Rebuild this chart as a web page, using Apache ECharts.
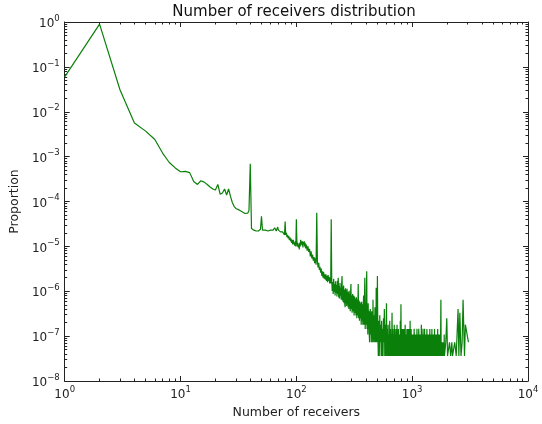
<!DOCTYPE html>
<html lang="en">
<head>
    <meta charset="UTF-8">
    <title>Number of receivers distribution</title>
    <script src="https://cdn.jsdelivr.net/npm/echarts@6.0.0/dist/echarts.min.js"></script>
    <style>
        *{margin:0;padding:0;box-sizing:border-box;}
        html,body{width:542px;height:424px;background:#fff;overflow:hidden;}
        #main{width:542px;height:424px;}
    </style>
</head>
<body>
<div id="main"></div>
<script>
    // ---- data (x = number of receivers, y = proportion) ----
    // head: every receiver count 1..40
    var receiversA = [1,2,3,4,5,6,7,8,9,10,11,12,13,14,15,16,17,18,19,20,
        21,22,23,24,25,26,27,28,29,30,31,32,33,34,35,36,37,38,39,40];
    var proportionA = [6.0e-2,9.0e-1,3.1e-2,5.6e-3,3.7e-3,2.4e-3,1.2e-3,7.4e-4,5.6e-4,4.6e-4,
        4.7e-4,4.4e-4,2.8e-4,2.4e-4,2.9e-4,2.7e-4,2.4e-4,2.1e-4,1.9e-4,1.8e-4,
        2.4e-4,1.45e-4,1.55e-4,1.9e-4,1.4e-4,1.9e-4,1.3e-4,9.5e-5,7.8e-5,7.0e-5,
        6.7e-5,6.5e-5,6.2e-5,5.9e-5,5.6e-5,5.4e-5,5.3e-5,5.5e-5,6.3e-5,6.9e-4];

    // 41..200
    var receiversB = [41,42,43,44,45,46,47,48,49,50,51,52,53,54,55,56,57,58,59,60,
        61,62,63,64,65,66,67,68,69,70,71,72,73,74,75,76,77,78,79,80,
        81,82,83,84,85,86,87,88,89,90,91,92,93,94,95,96,97,98,99,100,
        101,102,103,104,105,106,107,108,109,110,111,112,113,114,115,116,117,118,119,120,
        122,124,126,128,130,132,134,136,138,140,142,144,146,148,150,152,154,156,158,160,
        162,164,166,168,170,172,174,176,178,180,182,184,186,188,190,192,194,196,198,200];
    var proportionB = [2.5e-5,2.3e-5,2.3e-5,2.4e-5,2.2e-5,2.3e-5,2.2e-5,2.3e-5,2.4e-5,4.7e-5,
        2.3e-5,2.2e-5,2.1e-5,2.3e-5,2.2e-5,2.3e-5,2.2e-5,2.1e-5,2.4e-5,2.3e-5,
        2.2e-5,2.5e-5,2.3e-5,2.2e-5,2.6e-5,2.4e-5,2.2e-5,2.3e-5,2.7e-5,2.3e-5,
        2.2e-5,2.4e-5,2.1e-5,2.2e-5,2.0e-5,2.1e-5,1.9e-5,2.0e-5,1.8e-5,3.6e-5,
        1.8e-5,2.0e-5,1.6e-5,1.8e-5,1.5e-5,1.7e-5,1.4e-5,1.6e-5,1.3e-5,1.5e-5,
        1.2e-5,1.4e-5,1.1e-5,1.4e-5,1.2e-5,1.3e-5,1.05e-5,1.3e-5,1.0e-5,4.0e-5,
        1.3e-5,1.0e-5,1.2e-5,9.5e-6,1.1e-5,8.5e-6,1.2e-5,1.0e-5,1.4e-5,1.1e-5,
        1.3e-5,1.05e-5,1.3e-5,9.5e-6,1.25e-5,1.1e-5,1.3e-5,1.0e-5,1.2e-5,9.0e-6,
        1.1e-5,8.0e-6,1.0e-5,7.5e-6,8.8e-6,6.0e-6,7.8e-6,5.4e-6,6.6e-6,4.8e-6,
        5.8e-6,4.2e-6,5.4e-6,3.9e-6,5.6e-5,4.6e-6,3.4e-6,4.3e-6,3.0e-6,3.5e-6,
        2.6e-6,3.2e-6,2.2e-6,2.8e-6,2.0e-6,2.7e-6,1.9e-6,2.4e-6,1.8e-6,2.4e-6,
        1.7e-6,2.2e-6,1.6e-6,2.3e-6,1.7e-6,2.1e-6,1.5e-6,2.0e-6,1.5e-6,4.0e-5];

    // 202..501
    var receiversC = [202,204,206,208,210,212,214,216,218,220,222,224,226,228,230,232,234,236,238,240,
        242,244,246,248,250,252,254,256,258,260,262,264,266,268,270,272,274,276,278,280,
        282,284,286,288,290,292,294,296,298,300,
        303,306,309,312,315,318,321,324,327,330,333,336,339,342,345,348,351,354,357,360,
        363,366,369,372,375,378,381,384,387,390,393,396,399,402,405,408,411,414,417,420,
        423,426,429,432,435,438,441,444,447,450,453,456,459,462,465,468,471,474,477,480,
        483,486,489,492,495,498,501];
    var proportionC = [1.8e-6,1.02e-6,1.6e-6,8.7e-7,1.89e-6,9.8e-7,1.45e-6,8.0e-7,1.67e-6,9.1e-7,
        1.38e-6,7.6e-7,1.71e-6,8.7e-7,2.0e-6,7.3e-7,1.31e-6,6.9e-7,1.52e-6,8.0e-7,
        1.2e-6,6.5e-7,1.38e-6,2.18e-6,6.2e-7,1.23e-6,5.8e-7,1.34e-6,5.4e-7,1.09e-6,
        5.1e-7,4.4e-7,1.16e-6,5.4e-7,1.05e-6,4.7e-7,1.13e-6,5.1e-7,9.8e-7,4.4e-7,
        9.4e-7,4.0e-7,1.02e-6,4.4e-7,8.7e-7,3.6e-7,9.1e-7,1.45e-6,4.0e-7,8.0e-7,
        3.3e-7,8.7e-7,3.6e-7,8.0e-7,2.9e-7,7.6e-7,3.3e-7,6.9e-7,2.9e-7,7.3e-7,
        2.5e-7,6.5e-7,2.9e-7,1.45e-6,2.5e-7,6.2e-7,2.2e-7,5.8e-7,2.5e-7,5.4e-7,
        1.8e-7,5.8e-7,2.2e-7,5.1e-7,1.8e-7,4.7e-7,8.0e-7,1.8e-7,5.1e-7,2.0e-6,
        1.45e-7,4.4e-7,1.8e-7,8.7e-7,2.8e-6,1.45e-7,4.0e-7,1.09e-7,5.4e-7,1.45e-7,
        3.6e-7,1.09e-7,7.3e-8,3.3e-7,4.0e-7,1.09e-7,3.3e-7,7.3e-8,3.6e-7,1.09e-7,
        2.9e-7,7.3e-8,6.5e-7,1.09e-7,2.9e-7,7.3e-8,2.5e-7,1.09e-7,4.4e-7,7.3e-8,
        2.5e-7,7.3e-8,1.2e-6,1.09e-7,2.2e-7,7.3e-8,2.2e-6];

    // 505..1900, the band just above the one-receiver floor
    var receiversD = [505,510,515,520,525,530,535,540,545,550,555,560,565,570,575,580,585,590,595,600,
        605,610,615,620,625,630,635,640,645,650,655,660,665,670,675,680,685,690,695,700,
        705,710,715,720,725,730,735,740,745,750,755,760,765,770,775,780,785,790,795,800,
        805,810,815,820,825,830,835,840,845,850,855,860,865,870,875,880,885,890,895,900,
        905,910,915,920,925,930,935,940,945,950,955,960,965,970,975,980,985,990,995,1000,
        1010,1020,1030,1040,1050,1060,1070,1080,1090,1100,1110,1120,1130,1140,1150,1160,1170,1180,1190,1200,
        1210,1220,1230,1240,1250,1260,1270,1280,1290,1300,1310,1320,1330,1340,1350,1360,1370,1380,1390,1400,
        1410,1420,1430,1440,1450,1460,1470,1480,1490,1500,1510,1520,1530,1540,1550,1560,1570,1580,1590,1600,
        1610,1620,1630,1640,1650,1660,1670,1680,1690,1700,1710,1720,1730,1740,1750,1760,1770,1780,1790,1800,
        1810,1820,1830,1840,1850,1860,1870,1880,1890,1900];
    var proportionD = [1.45e-7,3.6e-8,2.2e-7,3.6e-8,2.9e-7,7.3e-8,1.8e-7,3.6e-8,2.2e-7,3.6e-8,
        1.45e-7,3.6e-8,2.5e-7,7.3e-8,4.0e-7,3.6e-8,1.8e-7,3.6e-8,1.45e-7,5.4e-7,
        3.6e-8,1.45e-7,3.6e-8,1.8e-7,3.6e-8,1.09e-7,3.6e-8,2.2e-7,3.6e-8,1.45e-7,
        3.6e-8,1.09e-7,3.6e-8,3.3e-7,3.6e-8,1.45e-7,3.6e-8,1.09e-7,3.6e-8,1.8e-7,
        3.6e-8,1.45e-7,3.6e-8,1.09e-7,3.6e-8,1.45e-7,3.6e-8,1.8e-7,3.6e-8,1.09e-7,
        3.6e-8,1.45e-7,3.6e-8,1.09e-7,3.6e-8,1.09e-7,3.6e-8,2.2e-7,3.6e-8,5.1e-7,
        3.6e-8,1.09e-7,3.6e-8,1.45e-7,3.6e-8,1.09e-7,3.6e-8,1.45e-7,3.6e-8,1.45e-7,
        3.6e-8,1.09e-7,3.6e-8,1.8e-7,3.6e-8,1.09e-7,3.6e-8,1.09e-7,3.6e-8,1.45e-7,
        3.6e-8,1.09e-7,3.6e-8,1.45e-7,3.6e-8,1.09e-7,3.6e-8,1.45e-7,3.6e-8,1.09e-7,
        3.6e-8,2.2e-7,3.6e-8,1.09e-7,3.6e-8,1.45e-7,3.6e-8,1.09e-7,3.6e-8,1.09e-7,
        3.6e-8,1.09e-7,3.6e-8,1.45e-7,3.6e-8,1.09e-7,3.6e-8,1.09e-7,3.6e-8,1.45e-7,
        3.6e-8,1.09e-7,3.6e-8,1.45e-7,3.6e-8,1.09e-7,3.6e-8,1.09e-7,3.6e-8,1.8e-7,
        3.6e-8,1.09e-7,3.6e-8,1.45e-7,3.6e-8,1.09e-7,3.6e-8,1.45e-7,3.6e-8,1.09e-7,
        3.6e-8,1.09e-7,3.6e-8,1.45e-7,3.6e-8,1.09e-7,3.6e-8,1.09e-7,3.6e-8,1.09e-7,
        3.6e-8,1.45e-7,3.6e-8,1.09e-7,3.6e-8,1.09e-7,3.6e-8,1.45e-7,3.6e-8,1.09e-7,
        3.6e-8,1.09e-7,3.6e-8,1.09e-7,3.6e-8,1.45e-7,3.6e-8,1.09e-7,3.6e-8,1.09e-7,
        3.6e-8,1.09e-7,3.6e-8,1.09e-7,3.6e-8,1.45e-7,3.6e-8,1.09e-7,3.6e-8,1.09e-7,
        3.6e-8,1.09e-7,3.6e-8,7.3e-8,3.6e-8,1.09e-7,6.5e-7,3.6e-8,7.3e-8,3.6e-8,
        7.3e-8,3.6e-8,7.3e-8,3.6e-8,7.3e-8,3.6e-8,7.3e-8,3.6e-8,1.09e-7,3.6e-8];

    // sparse tail
    var receiversE = [1920,1950,1990,2020,2060,2100,2150,2200,2230,2280,2330,2400,2450,2490,2530,2580,2640,2700,2750,2830,2880,3060];
    var proportionE = [3.6e-8,7.3e-8,2.5e-7,3.6e-8,3.6e-8,7.3e-8,3.6e-8,7.3e-8,3.6e-8,3.6e-8,7.3e-8,
        3.6e-8,3.6e-8,4.0e-7,3.6e-8,3.3e-7,3.6e-8,7.3e-8,6.5e-7,3.6e-8,1.8e-7,7.3e-8];

    // tick positions
    var xMajor = [1, 10, 100, 1000, 10000];
    var yMajor = [1e-8, 1e-7, 1e-6, 1e-5, 1e-4, 1e-3, 1e-2, 1e-1, 1];
    var minorX = [];
    for (var d = 1; d <= 1000; d *= 10) {
        for (var k = 2; k <= 9; k++) minorX.push(k * d);
    }
    var minorY = [];
    for (var p = -8; p < 0; p++) {
        for (var m = 2; m <= 9; m++) minorY.push(m * Math.pow(10, p));
    }

    var receivers = receiversA.concat(receiversB, receiversC, receiversD, receiversE);
    var proportion = proportionA.concat(proportionB, proportionC, proportionD, proportionE);
    var points = receivers.map(function (x, i) { return [x, proportion[i]]; });

    var FONT = 'DejaVu Sans';
    var axisColor = '#222';

    function powLabel(v) {
        var e = Math.round(Math.log10(v));
        return '{b|10}{s|' + (e < 0 ? '\u2212' + (-e) : e) + '}';
    }
    var labelRich = {
        b: {fontFamily: FONT, fontSize: 12, color: axisColor, lineHeight: 16, verticalAlign: 'bottom'},
        s: {fontFamily: FONT, fontSize: 8.5, color: axisColor, lineHeight: 6, padding: [0, 0, 7, 0], verticalAlign: 'bottom'}
    };

    function tickAxis(kind, pos, values, len, withLine) {
        var lo = kind === 'x' ? 1 : 1e-8;
        var hi = kind === 'x' ? 10000 : 1;
        return {
            type: 'log', logBase: 10, min: lo, max: hi, position: pos,
            axisLine: {show: withLine, onZero: false, lineStyle: {color: axisColor, width: 1}},
            axisTick: {show: true, inside: true, length: len, customValues: values, lineStyle: {color: axisColor, width: 1}},
            axisLabel: {show: false},
            splitLine: {show: false},
            minorTick: {show: false}
        };
    }

    var mainX = tickAxis('x', 'bottom', xMajor, 5, true);
    mainX.interval = 1;
    mainX.axisLabel = {show: true, customValues: xMajor, margin: 4, formatter: powLabel, rich: labelRich};
    mainX.name = 'Number of receivers';
    mainX.nameLocation = 'middle';
    mainX.nameGap = 24;
    mainX.nameTextStyle = {fontFamily: FONT, fontSize: 12.5, color: axisColor};

    var mainY = tickAxis('y', 'left', yMajor, 5, true);
    mainY.interval = 1;
    mainY.axisLabel = {show: true, customValues: yMajor, margin: 5, formatter: powLabel, rich: labelRich};
    mainY.name = 'Proportion';
    mainY.nameLocation = 'middle';
    mainY.nameGap = 33;
    mainY.nameTextStyle = {fontFamily: FONT, fontSize: 12.5, color: axisColor};

    var chart = echarts.init(document.getElementById('main'), null, {renderer: 'canvas'});
    chart.setOption({
        animation: false,
        backgroundColor: '#fff',
        title: {
            text: 'Number of receivers distribution',
            left: 294, top: 5, textAlign: 'center', padding: 0,
            textStyle: {fontFamily: FONT, fontSize: 15, fontWeight: 'normal', color: '#111'}
        },
        grid: {left: 60, right: 14, top: 22, bottom: 43},
        xAxis: [
            mainX,
            tickAxis('x', 'bottom', minorX, 2.5, false),
            tickAxis('x', 'top', xMajor, 5, true),
            tickAxis('x', 'top', minorX, 2.5, false)
        ],
        yAxis: [
            mainY,
            tickAxis('y', 'left', minorY, 2.5, false),
            tickAxis('y', 'right', yMajor, 5, true),
            tickAxis('y', 'right', minorY, 2.5, false)
        ],
        series: [{
            type: 'line',
            xAxisIndex: 0,
            yAxisIndex: 0,
            data: points,
            smooth: false,
            showSymbol: false,
            symbol: 'none',
            lineStyle: {color: '#0a800a', width: 1.2},
            z: 1
        }]
    });
</script>
</body>
</html>
